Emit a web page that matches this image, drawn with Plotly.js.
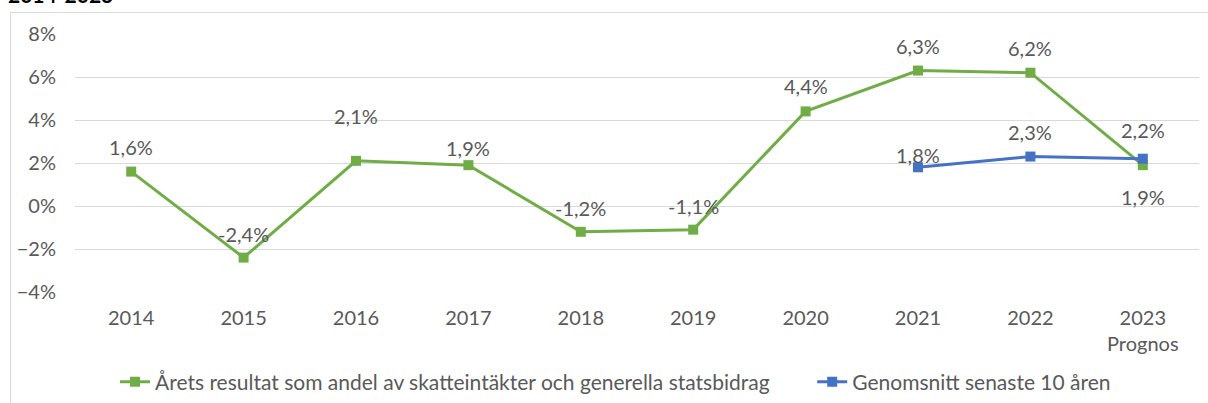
<!DOCTYPE html>
<html>
<head>
<meta charset="utf-8">
<script src="https://cdn.plot.ly/plotly-3.0.1.min.js"></script>
<style>
  html, body { margin: 0; padding: 0; background: #fff; overflow: hidden; }
  #frame { position: absolute; left: 10px; top: 12px; width: 1400px; height: 600px; border: 1px solid #d9d9d9; box-sizing: border-box; }
  #chart { position: absolute; left: 0; top: 0; width: 1208px; height: 403px; }
</style>
</head>
<body>
<div id="frame"></div>
<div id="chart"></div>
<script>
const years = ['2014', '2015', '2016', '2017', '2018', '2019', '2020', '2021', '2022', '2023<br>Prognos'];
const resultat = [1.6, -2.4, 2.1, 1.9, -1.2, -1.1, 4.4, 6.3, 6.2, 1.9];
const genomsnitt = [null, null, null, null, null, null, null, 1.8, 2.3, 2.2];
const seriesNames = ['Årets resultat som andel av skatteintäkter och generella statsbidrag', 'Genomsnitt senaste 10 åren'];
const titleText = '2014-2023';

// label vertical offsets (px) – styling only
const resultatLabelShift = [25, 24, 45, 17, 24, 24, 25, 25, 25, -32];
const genomsnittLabelShift = [0, 0, 0, 0, 0, 0, 0, 12, 25, 29];

const GREEN = '#70AD47';
const BLUE = '#4472C4';
const TXT = '#595959';
const FONT = 'Lato, "Open Sans", sans-serif';
const FS = 20;

function fmt(v) { return v.toFixed(1).replace('.', ',') + '%'; }

const traces = [
  {
    x: years, y: resultat, name: seriesNames[0] + '\u00a0'.repeat(7), type: 'scatter', mode: 'lines+markers',
    line: { color: GREEN, width: 3 },
    marker: { symbol: 'square', size: 10, color: GREEN },
    hoverinfo: 'skip'
  },
  {
    x: years, y: genomsnitt, name: seriesNames[1], type: 'scatter', mode: 'lines+markers',
    line: { color: BLUE, width: 3 },
    marker: { symbol: 'square', size: 10, color: BLUE },
    connectgaps: false,
    hoverinfo: 'skip'
  }
];

const annotations = [];
resultat.forEach((v, i) => {
  annotations.push({ x: i, y: v, xref: 'x', yref: 'y', text: fmt(v), showarrow: false,
    yshift: resultatLabelShift[i], font: { family: FONT, size: FS, color: TXT } });
});
genomsnitt.forEach((v, i) => {
  if (v === null) return;
  annotations.push({ x: i, y: v, xref: 'x', yref: 'y', text: fmt(v), showarrow: false,
    yshift: genomsnittLabelShift[i], font: { family: FONT, size: FS, color: TXT } });
});
annotations.push({ x: 0, y: 1, xref: 'paper', yref: 'paper', xanchor: 'left', yanchor: 'bottom',
  xshift: -69, yshift: 25, text: '<b>' + titleText + '</b>', showarrow: false,
  font: { family: FONT, size: 21, color: '#000' } });

const layout = {
  width: 1208, height: 403,
  margin: { l: 75, r: 9, t: 34, b: 111, autoexpand: false },
  paper_bgcolor: 'rgba(0,0,0,0)', plot_bgcolor: 'rgba(0,0,0,0)',
  font: { family: FONT, size: FS, color: TXT },
  showlegend: true,
  legend: { orientation: 'h', xref: 'container', yref: 'container', x: 115 / 1208, xanchor: 'left',
    y: 21 / 403, yanchor: 'middle',
    font: { family: FONT, size: 21, color: TXT }, itemclick: false },
  xaxis: { type: 'category', range: [-0.5, 9.5], showgrid: false, zeroline: false, showline: false, automargin: false,
    ticks: '', tickfont: { family: FONT, size: FS, color: TXT }, ticklabelstandoff: 12, fixedrange: true },
  yaxis: { range: [-4, 8], dtick: 2, tick0: 0, ticksuffix: '%', showgrid: true, gridcolor: '#d9d9d9', gridwidth: 1,
    zeroline: false, showline: false, automargin: false, ticks: '', tickfont: { family: FONT, size: FS, color: TXT },
    ticklabelstandoff: 18, fixedrange: true },
  annotations: annotations
};

Plotly.newPlot('chart', traces, layout, { displayModeBar: false, staticPlot: true });
</script>
</body>
</html>
